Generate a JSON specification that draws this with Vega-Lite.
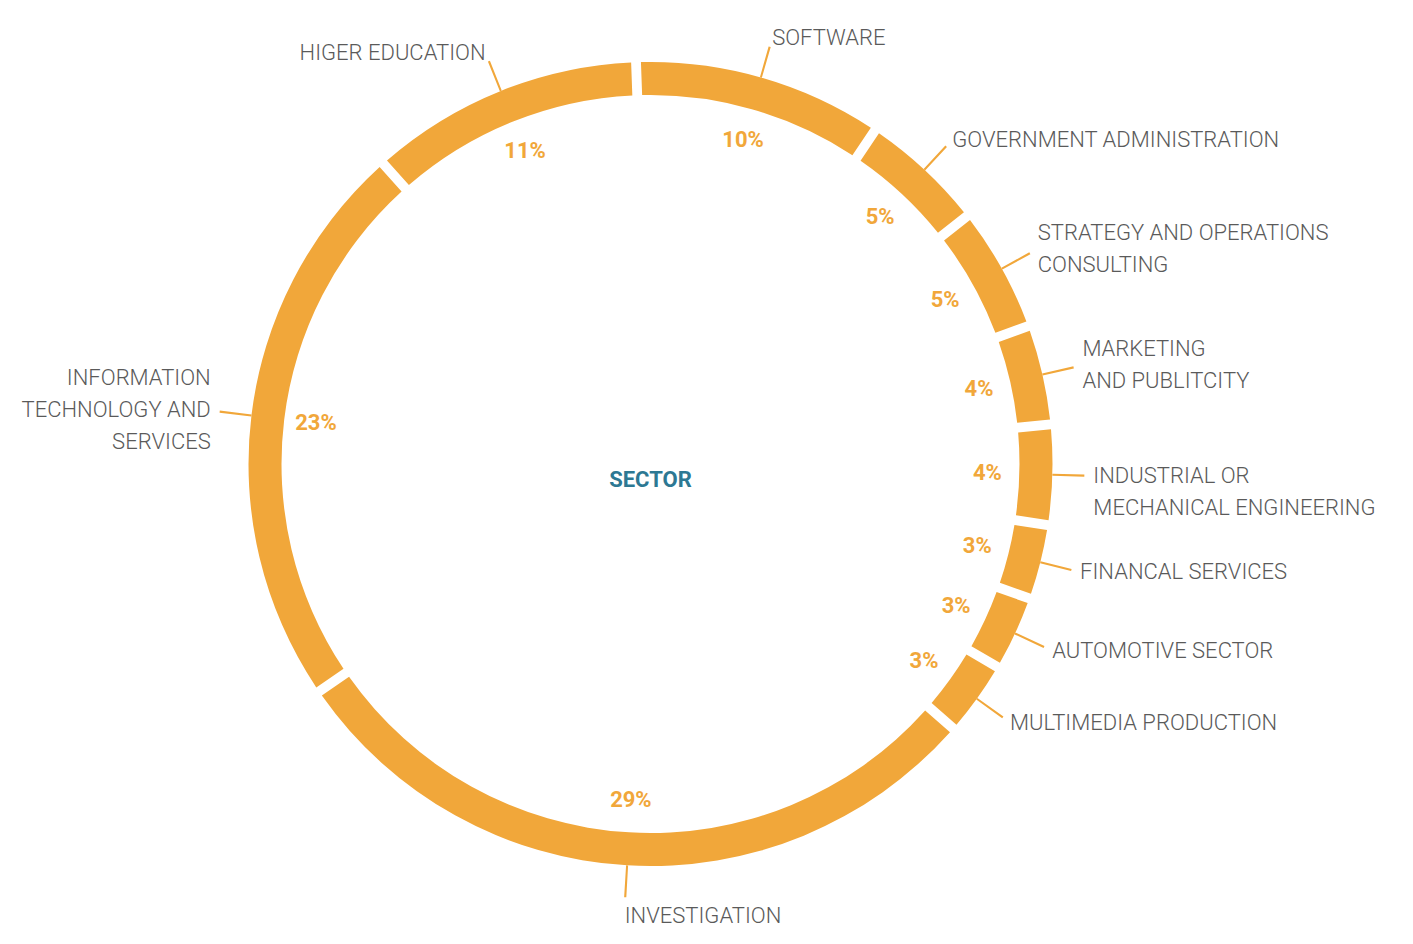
{
  "$schema": "https://vega.github.io/schema/vega-lite/v6.json",
  "autosize": "none",
  "width": 1301,
  "height": 928,
  "padding": {"left": 0, "top": 0, "right": 112, "bottom": 16},
  "background": "white",
  "config": {"view": {"stroke": null}},
  "data": {
    "values": [
      {"order": 1, "sector": ["SOFTWARE"], "value": 10},
      {"order": 2, "sector": ["GOVERNMENT ADMINISTRATION"], "value": 5},
      {"order": 3, "sector": ["STRATEGY AND OPERATIONS", "CONSULTING"], "value": 5},
      {"order": 4, "sector": ["MARKETING", "AND PUBLITCITY"], "value": 4},
      {"order": 5, "sector": ["INDUSTRIAL OR", "MECHANICAL ENGINEERING"], "value": 4},
      {"order": 6, "sector": ["FINANCAL SERVICES"], "value": 3},
      {"order": 7, "sector": ["AUTOMOTIVE SECTOR"], "value": 3},
      {"order": 8, "sector": ["MULTIMEDIA PRODUCTION"], "value": 3},
      {"order": 9, "sector": ["INVESTIGATION"], "value": 29},
      {"order": 10, "sector": ["INFORMATION", "TECHNOLOGY AND", "SERVICES"], "value": 23},
      {"order": 11, "sector": ["HIGER EDUCATION"], "value": 11}
    ]
  },
  "transform": [
    {"stack": "value", "groupby": [], "sort": [{"field": "order", "order": "ascending"}], "as": ["v0", "v1"]},
    {"calculate": "(datum.v0 + datum.v1) / 2", "as": "mid"},
    {"calculate": "datum.mid - 0.04", "as": "l0"},
    {"calculate": "datum.mid + 0.04", "as": "l1"},
    {"calculate": "datum.value + '%'", "as": "pct"}
  ],
  "layer": [
    {
      "mark": {"type": "arc", "radius": 402, "radius2": 369, "padAngle": 0.018, "color": "#F1A73A"},
      "encoding": {
        "theta": {"field": "v0", "type": "quantitative", "scale": {"domain": [0, 100], "range": [-0.036, 6.2472]}},
        "theta2": {"field": "v1"}
      }
    },
    {
      "mark": {"type": "arc", "radius": 434, "radius2": 402, "color": "#F1A73A"},
      "encoding": {
        "theta": {"field": "l0", "type": "quantitative", "scale": {"domain": [0, 100], "range": [-0.036, 6.2472]}},
        "theta2": {"field": "l1"}
      }
    },
    {
      "mark": {"type": "text", "radius": 337, "font": "Roboto", "fontSize": 22, "fontWeight": "bold", "color": "#F1A73A", "align": "center", "baseline": "middle"},
      "encoding": {
        "theta": {"field": "mid", "type": "quantitative", "scale": {"domain": [0, 100], "range": [-0.036, 6.2472]}},
        "text": {"field": "pct"}
      }
    },
    {
      "mark": {"type": "text", "radius": 443, "font": "Roboto", "fontSize": 22, "fontWeight": 300, "color": "#5a5a5a", "lineHeight": 32,
        "align": {"expr": "datum.mid < 60 ? 'left' : 'right'"},
        "baseline": {"expr": "datum.mid > 45 && datum.mid < 60 ? 'top' : 'middle'"},
        "dy": {"expr": "(datum.mid < 24 || datum.mid > 60) ? -(length(datum.sector) - 1) * 16 : 0"}},
      "encoding": {
        "theta": {"field": "mid", "type": "quantitative", "scale": {"domain": [0, 100], "range": [-0.036, 6.2472]}},
        "text": {"field": "sector"}
      }
    },
    {
      "data": {"values": [{"t": "SECTOR"}]},
      "transform": [],
      "mark": {"type": "text", "font": "Roboto", "fontSize": 22, "fontWeight": "bold", "color": "#2D7893", "align": "center", "baseline": "middle", "dy": 16},
      "encoding": {"text": {"field": "t"}}
    }
  ]
}
